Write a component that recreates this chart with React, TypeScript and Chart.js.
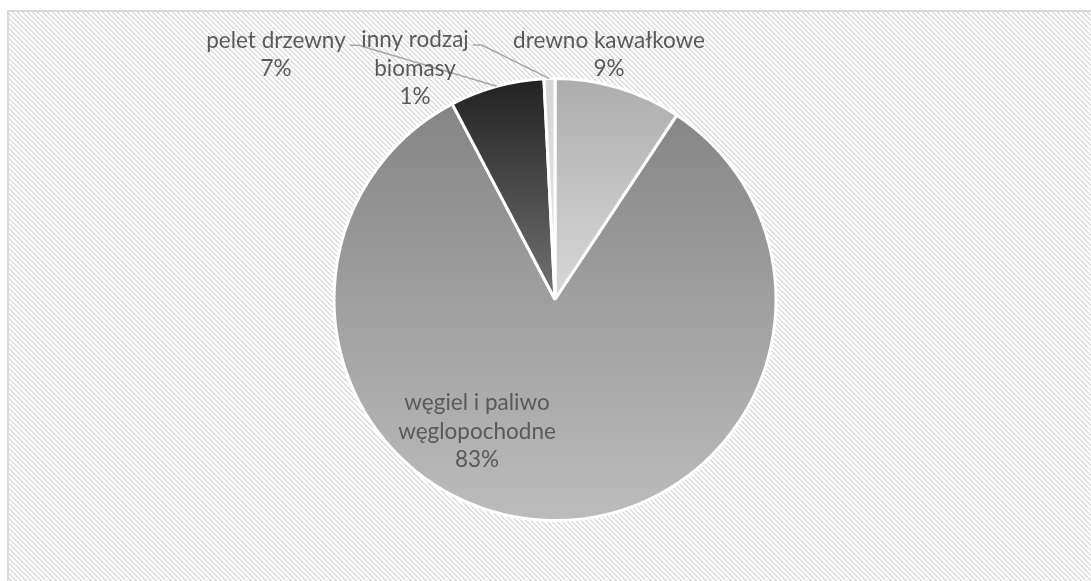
import React, { useEffect, useRef } from "react";
import { Chart, registerables } from "chart.js";

Chart.register(...registerables);

// ---- data ----
const categories = [
  "drewno kawałkowe",
  "węgiel i paliwo węglopochodne",
  "pelet drzewny",
  "inny rodzaj biomasy",
];
const labelLines = [
  ["drewno kawałkowe"],
  ["węgiel i paliwo", "węglopochodne"],
  ["pelet drzewny"],
  ["inny rodzaj", "biomasy"],
];
const shares = [9.3, 83.0, 6.9, 0.8];

// ---- styles ----
const gradientStops = [
  ["#adadad", "#d8d8d8"],
  ["#858585", "#bcbcbc"],
  ["#222222", "#727272"],
  ["#d6d6d6", "#e4e4e4"],
];
// label block centre offsets from pie centre (px)
const labelOffsets = [
  { dx: 54, dy: -245 },
  { dx: -78, dy: 132 },
  { dx: -279, dy: -245 },
  { dx: -140, dy: -231 },
];
const hasLeader = [false, false, true, true];
const FONT = '22.5px Lato, "Open Sans", sans-serif';
const LINE_H = 28.5;
const TEXT_COLOR = "#595959";
const W = 1091;
const H = 581;

function makePattern(ctx: CanvasRenderingContext2D) {
  const n = 5;
  const c = document.createElement("canvas");
  c.width = n;
  c.height = n;
  const p = c.getContext("2d")!;
  p.fillStyle = "#ffffff";
  p.fillRect(0, 0, n, n);
  p.fillStyle = "#dedede";
  for (let y = 0; y < n; y++) {
    for (let x = 0; x < n; x++) {
      const d = (((x - y) % n) + n) % n;
      if (d < 2) p.fillRect(x, y, 1, 1);
    }
  }
  return ctx.createPattern(c, "repeat");
}

const backgroundPlugin = {
  id: "hatchBackground",
  beforeDraw(chart: any) {
    const ctx: CanvasRenderingContext2D = chart.ctx;
    ctx.save();
    ctx.fillStyle = "#ffffff";
    ctx.fillRect(0, 0, chart.width, chart.height);
    const pat = makePattern(ctx);
    if (pat) {
      ctx.fillStyle = pat;
      ctx.fillRect(9, 12, chart.width, chart.height);
    }
    ctx.strokeStyle = "#d9d9d9";
    ctx.lineWidth = 2;
    ctx.beginPath();
    ctx.moveTo(8, chart.height + 5);
    ctx.lineTo(8, 11);
    ctx.lineTo(chart.width + 5, 11);
    ctx.stroke();
    ctx.restore();
  },
};

function containsAngle(a: number, s: number, e: number) {
  for (let k = -2; k <= 2; k++) {
    const v = a + k * 2 * Math.PI;
    if (v >= s && v <= e) return true;
  }
  return false;
}

const gradientPlugin = {
  id: "sliceGradients",
  beforeDatasetsDraw(chart: any) {
    const ctx: CanvasRenderingContext2D = chart.ctx;
    const meta = chart.getDatasetMeta(0);
    meta.data.forEach((arc: any, i: number) => {
      const { x, y, startAngle, endAngle, outerRadius } = arc;
      const ys = [y, y + outerRadius * Math.sin(startAngle), y + outerRadius * Math.sin(endAngle)];
      if (containsAngle(-Math.PI / 2, startAngle, endAngle)) ys.push(y - outerRadius);
      if (containsAngle(Math.PI / 2, startAngle, endAngle)) ys.push(y + outerRadius);
      const top = Math.min(...ys);
      const bottom = Math.max(...ys);
      const g = ctx.createLinearGradient(0, top, 0, bottom + 0.01);
      g.addColorStop(0, gradientStops[i][0]);
      g.addColorStop(1, gradientStops[i][1]);
      arc.options = { ...arc.options, backgroundColor: g };
    });
  },
};

const labelPlugin = {
  id: "sliceLabels",
  afterDatasetsDraw(chart: any) {
    const ctx: CanvasRenderingContext2D = chart.ctx;
    const meta = chart.getDatasetMeta(0);
    const data: number[] = chart.data.datasets[0].data;
    const total = data.reduce((a, b) => a + b, 0);
    ctx.save();
    ctx.font = FONT;
    ctx.textAlign = "center";
    ctx.textBaseline = "middle";
    meta.data.forEach((arc: any, i: number) => {
      const { x, y, startAngle, endAngle, outerRadius } = arc;
      const lines = [...labelLines[i], Math.round((data[i] / total) * 100) + "%"];
      const bx = x + labelOffsets[i].dx;
      const by = y + labelOffsets[i].dy;
      const y0 = by - ((lines.length - 1) / 2) * LINE_H;
      if (hasLeader[i]) {
        const w1 = ctx.measureText(lines[0]).width;
        const sx = bx + w1 / 2 + 4;
        const sy = y0 + 5;
        const mid = (startAngle + endAngle) / 2;
        const ex = x + outerRadius * Math.cos(mid);
        const ey = y + outerRadius * Math.sin(mid);
        ctx.strokeStyle = "#a6a6a6";
        ctx.lineWidth = 1.5;
        ctx.beginPath();
        ctx.moveTo(sx, sy);
        ctx.lineTo(sx + 9, sy);
        ctx.lineTo(ex, ey);
        ctx.stroke();
      }
      ctx.fillStyle = TEXT_COLOR;
      lines.forEach((t, j) => ctx.fillText(t, bx, y0 + j * LINE_H));
    });
    ctx.restore();
  },
};

export default function App() {
  const ref = useRef<HTMLCanvasElement | null>(null);
  useEffect(() => {
    if (!ref.current) return;
    const chart = new Chart(ref.current, {
      type: "pie",
      data: {
        labels: categories,
        datasets: [
          {
            data: shares,
            backgroundColor: gradientStops.map((g) => g[1]),
            borderColor: "#ffffff",
            borderWidth: 3,
          },
        ],
      },
      options: {
        responsive: false,
        animation: false,
        layout: { padding: { left: 19, right: 0, top: 77, bottom: 59 } },
        plugins: {
          legend: { display: false },
          tooltip: { enabled: false },
        },
      },
      plugins: [backgroundPlugin, gradientPlugin, labelPlugin],
    });
    return () => chart.destroy();
  }, []);
  return (
    <div style={{ position: "absolute", left: 0, top: 0, width: W, height: H }}>
      <canvas ref={ref} width={W} height={H} style={{ display: "block" }} />
    </div>
  );
}
